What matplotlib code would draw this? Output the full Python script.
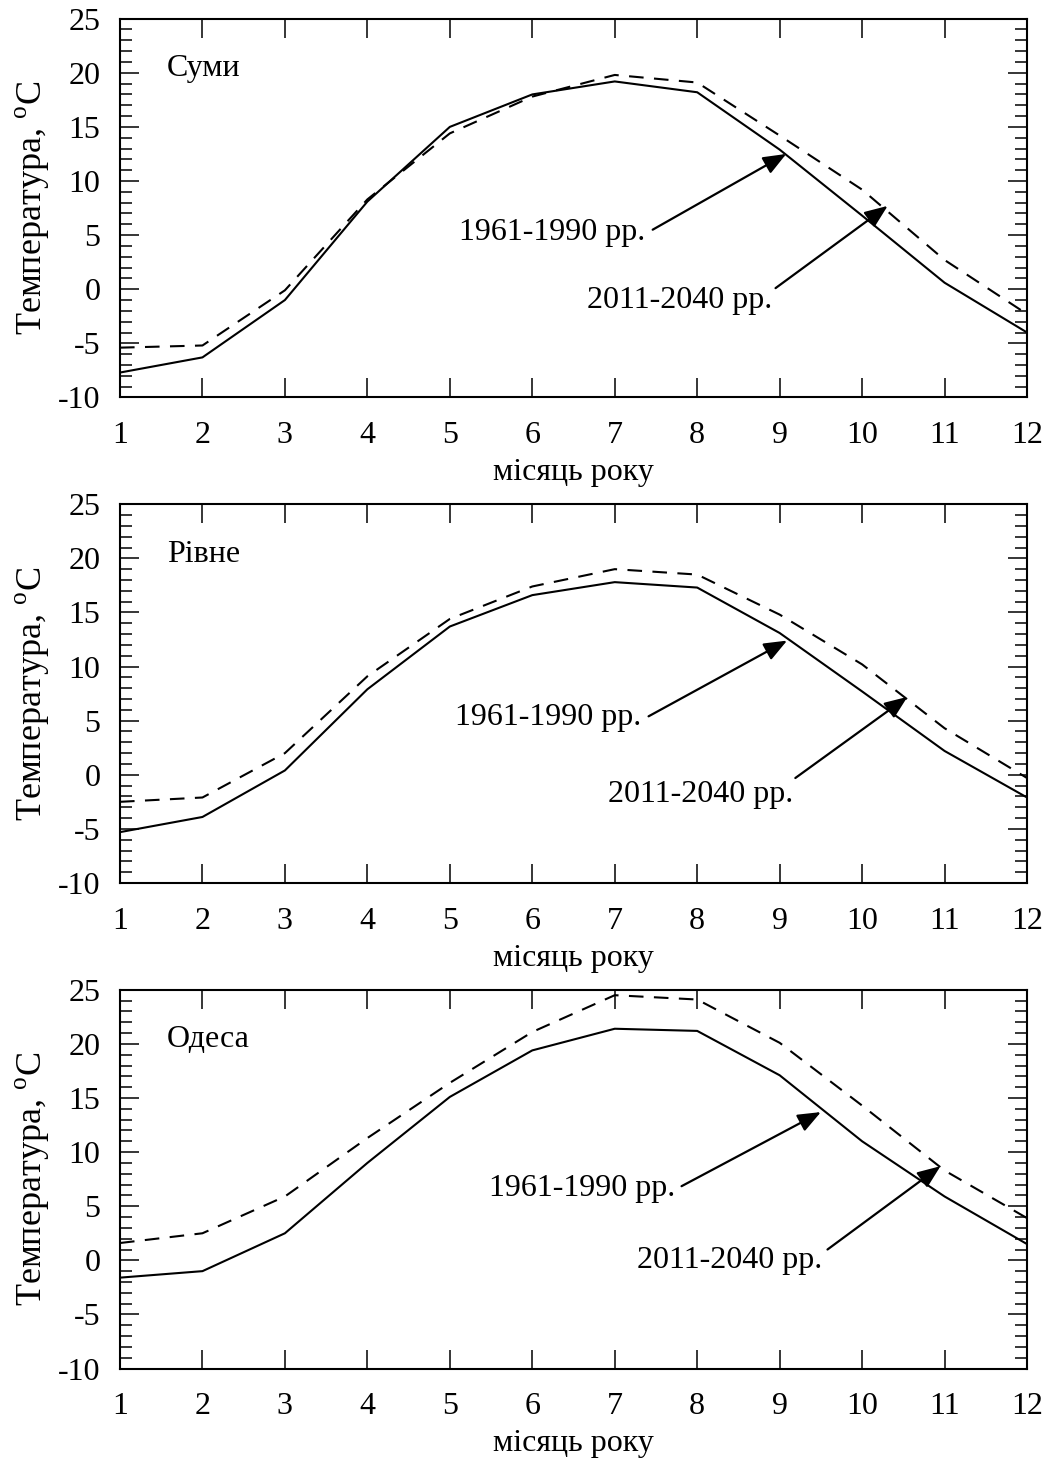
import numpy as np
import matplotlib
matplotlib.use("Agg")
import matplotlib.pyplot as plt
from matplotlib.ticker import MultipleLocator

plt.rcParams['font.family'] = ['Liberation Serif', 'DejaVu Serif']
plt.rcParams['mathtext.fontset'] = 'custom'
plt.rcParams['mathtext.rm'] = 'Liberation Serif'
plt.rcParams['font.size'] = 23
plt.rcParams['axes.unicode_minus'] = False

months = np.arange(1, 13)

cities = ["Суми", "Рівне", "Одеса"]

sumy_1961 = [-7.7, -6.3, -1.0, 8.1, 15.0, 18.0, 19.2, 18.2, 12.9, 6.8, 0.6, -4.0]
sumy_2011 = [-5.4, -5.2, -0.1, 8.3, 14.4, 17.8, 19.8, 19.1, 14.2, 9.2, 2.7, -2.3]

rivne_1961 = [-5.3, -3.9, 0.4, 7.9, 13.7, 16.6, 17.8, 17.3, 13.1, 7.7, 2.2, -2.1]
rivne_2011 = [-2.5, -2.1, 2.0, 9.1, 14.4, 17.4, 19.0, 18.5, 14.8, 10.2, 4.3, -0.3]

odesa_1961 = [-1.6, -1.0, 2.5, 9.0, 15.1, 19.4, 21.4, 21.2, 17.1, 11.0, 5.9, 1.5]
odesa_2011 = [1.6, 2.5, 5.9, 11.3, 16.4, 21.1, 24.5, 24.1, 20.1, 14.3, 8.3, 3.9]

label_1961 = "1961-1990 рр."
label_2011 = "2011-2040 рр."

# (text x, text y, tail, tip) for each annotation
ann_1961 = [(7.37, 4.55, (7.46, 5.5), (9.08, 12.5)),
            (7.32, 4.64, (7.41, 5.4), (9.09, 12.4)),
            (7.73, 5.9, (7.81, 6.85), (9.5, 13.7))]
ann_2011 = [(8.91, -1.73, (8.95, 0.1), (10.31, 7.7)),
            (9.16, -2.47, (9.19, -0.3), (10.55, 7.2)),
            (9.52, -0.7, (9.58, 1.0), (10.95, 8.7))]

series = [(sumy_1961, sumy_2011), (rivne_1961, rivne_2011), (odesa_1961, odesa_2011)]

fig = plt.figure(figsize=(10.48, 14.59), dpi=100)
bottoms = [0.7276, 0.3948, 0.0620]

for i, (old, new) in enumerate(series):
    ax = fig.add_axes([0.1145, bottoms[i], 0.8655, 0.2596])
    ax.plot(months, old, color='black', lw=1.5)
    ax.plot(months, new, color='black', lw=1.5, dashes=(7, 5))
    ax.set_xlim(1, 12)
    ax.set_ylim(-10, 25)
    ax.set_xticks(months)
    ax.yaxis.set_major_locator(MultipleLocator(5))
    ax.yaxis.set_minor_locator(MultipleLocator(1))
    ax.tick_params(axis='both', which='major', direction='in', length=14, width=1.1,
                   top=True, right=True)
    ax.tick_params(axis='y', which='minor', direction='in', length=8.5, width=1.1,
                   left=True, right=True)
    ax.tick_params(axis='x', pad=17)
    ax.tick_params(axis='y', pad=14)
    for s in ax.spines.values():
        s.set_linewidth(1.5)
    ax.set_xlabel("місяць року", labelpad=6)
    ax.set_ylabel("Температура, $^\\mathrm{o}$C", fontsize=26, labelpad=4)
    ax.text(0.052, 0.868, cities[i], transform=ax.transAxes, ha='left', va='center')

    for (tx, ty, tail, tip), lab in ((ann_1961[i], label_1961), (ann_2011[i], label_2011)):
        ax.text(tx, ty, lab, ha='right', va='baseline')
        ax.annotate('', xy=tip, xytext=tail,
                    arrowprops=dict(arrowstyle='-|>,head_length=0.7,head_width=0.28',
                                    color='black', lw=1.6, mutation_scale=20,
                                    shrinkA=0, shrinkB=0))

fig.savefig("out.png", dpi=100)
